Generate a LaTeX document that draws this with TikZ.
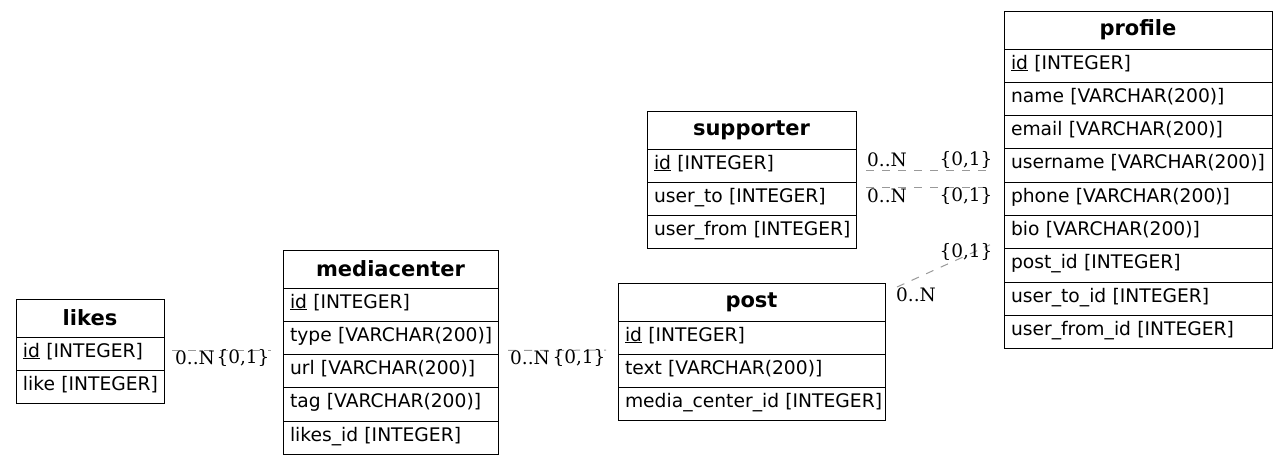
\documentclass[tikz,border=0pt]{standalone}
\usepackage{fontspec}
\setmainfont{DejaVu Sans}
\newfontfamily\lblfont{DejaVu Serif}
\usetikzlibrary{positioning}

\begin{document}
\begin{tikzpicture}[x=1pt, y=-1pt,
  tbl/.style={draw, line width=1pt, anchor=north west, inner sep=0pt, outer sep=0pt,
    minimum width=#1, minimum height=38, font=\fontsize{21}{25}\selectfont\bfseries},
  fld/.style={draw, line width=1pt, inner xsep=7, inner ysep=0pt, outer sep=0pt,
    text width=#1-14, text depth=7.5, minimum height=33.3, align=left,
    font=\fontsize{18.7}{22}\selectfont},
  rel/.style={draw=gray!80, dash pattern=on 8pt off 8pt, line width=1pt},
  card/.style={font=\lblfont\fontsize{18.5}{22}\selectfont, inner sep=0pt}]
  \useasboundingbox (0,0) rectangle (1288,464);

  % tables
  \node[tbl=148] (likes) at (16,299) {likes};
  \foreach \n/\t [remember=\n as \p (initially likes)] in
      {likes-id/\underline{id} [INTEGER], likes-like/like [INTEGER]}
    \node[fld=148, below=0pt of \p] (\n) {\mbox{\t}};

  \node[tbl=215] (mediacenter) at (283,250) {mediacenter};
  \foreach \n/\t [remember=\n as \p (initially mediacenter)] in
      {media-id/\underline{id} [INTEGER], media-type/type [VARCHAR(200)],
      media-url/url [VARCHAR(200)], media-tag/tag [VARCHAR(200)],
      media-likes/likes\_id [INTEGER]}
    \node[fld=215, below=0pt of \p] (\n) {\mbox{\t}};

  \node[tbl=267] (post) at (618,283) {post};
  \foreach \n/\t [remember=\n as \p (initially post)] in
      {post-id/\underline{id} [INTEGER], post-text/text [VARCHAR(200)],
      post-media/media\_center\_id [INTEGER]}
    \node[fld=267, below=0pt of \p] (\n) {\mbox{\t}};

  \node[tbl=209] (supporter) at (647,111) {supporter};
  \foreach \n/\t [remember=\n as \p (initially supporter)] in
      {sup-id/\underline{id} [INTEGER], sup-to/user\_to [INTEGER],
      sup-from/user\_from [INTEGER]}
    \node[fld=209, below=0pt of \p] (\n) {\mbox{\t}};

  \node[tbl=268] (profile) at (1004,11) {profile};
  \foreach \n/\t [remember=\n as \p (initially profile)] in
      {prof-id/\underline{id} [INTEGER], prof-name/name [VARCHAR(200)],
      prof-email/email [VARCHAR(200)], prof-username/username [VARCHAR(200)],
      prof-phone/phone [VARCHAR(200)], prof-bio/bio [VARCHAR(200)],
      prof-post/post\_id [INTEGER], prof-to/user\_to\_id [INTEGER],
      prof-from/user\_from\_id [INTEGER]}
    \node[fld=268, below=0pt of \p] (\n) {\mbox{\t}};

  % relations
  \draw[rel] ([xshift=8,yshift=3.5]likes-id.east) -- ([xshift=-12,yshift=3.5]likes-id.east -| media-type.west);
  \node[card] (c1) at (195,358) {0..N};
  \node[card] (c2) at (243,358) {\{0,1\}};

  \draw[rel] ([xshift=10,yshift=-12.5]media-type.east) -- ([xshift=-12,yshift=-12.5]post-id.west);
  \node[card] (c3) at (530,358) {0..N};
  \node[card] (c4) at (579,358) {\{0,1\}};

  \draw[rel] ([xshift=10,yshift=-4.5]sup-id.east) -- ([xshift=-17,yshift=-4.5]sup-id.east -| prof-username.west);
  \node[card] (c5) at (887,160) {0..N};
  \node[card] (c6) at (966,160) {\{0,1\}};

  \draw[rel] ([xshift=10,yshift=-5]sup-to.north east) -- ([xshift=-17,yshift=-5]sup-to.north east -| prof-phone.west);
  \node[card] (c7) at (887,196) {0..N};
  \node[card] (c8) at (966,196) {\{0,1\}};

  \draw[rel] ([xshift=12,yshift=-4]post.north east) -- ([xshift=-14,yshift=4]prof-post.north west);
  \node[card] (c9) at (966,252) {\{0,1\}};
  \node[card] (c10) at (916,295) {0..N};
\end{tikzpicture}
\end{document}
